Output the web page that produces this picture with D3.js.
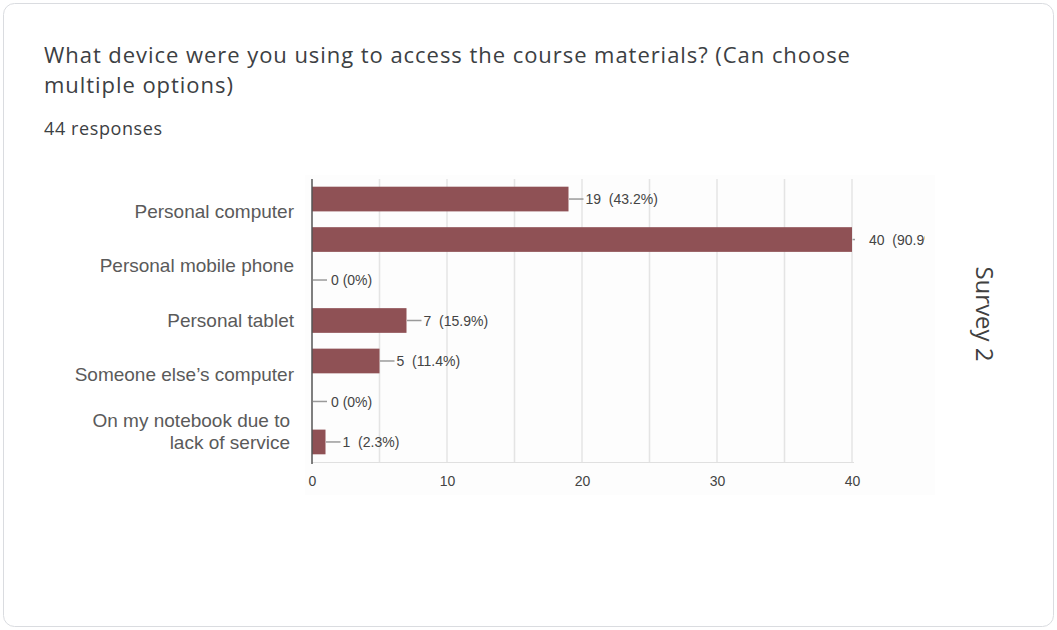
<!DOCTYPE html>
<html>
<head>
<meta charset="utf-8">
<script src="https://cdn.jsdelivr.net/npm/d3@7/dist/d3.min.js"></script>
<style>
  html, body { margin: 0; padding: 0; background: #ffffff; }
  svg { display: block; }
</style>
</head>
<body>
<svg id="chart" width="1057" height="630"></svg>
<script>
// Survey question and response count
const titleLines = [
  "What device were you using to access the course materials? (Can choose",
  "multiple options)"
];
const responseText = "44 responses";
const sideLabel = "Survey 2";

// Category labels shown along the left side
const categoryLabels = [
  ["Personal computer"],
  ["Personal mobile phone"],
  ["Personal tablet"],
  ["Someone else\u2019s computer"],
  ["On my notebook due to", "lack of service"]
];

// Bar counts, top to bottom, and their percentage labels
const barCounts = [19, 40, 0, 7, 5, 0, 1];
const barPercents = ["43.2%", "90.9%", "0%", "15.9%", "11.4%", "0%", "2.3%"];

// Axis ticks
const xTicks = [0, 10, 20, 30, 40];
const xGrid = [5, 10, 15, 20, 25, 30, 35, 40];

const svg = d3.select("#chart");

// Card frame
svg.append("rect")
  .attr("x", 3.5).attr("y", 3.5)
  .attr("width", 1050).attr("height", 623)
  .attr("rx", 11).attr("ry", 11)
  .attr("fill", "#ffffff")
  .attr("stroke", "#dadce0")
  .attr("stroke-width", 1);

// Header
const header = svg.append("g").attr("font-family", "'Open Sans', Lato, sans-serif");
header.selectAll("text.title")
  .data(titleLines)
  .join("text")
  .attr("class", "title")
  .attr("x", 44)
  .attr("y", (d, i) => 63 + i * 30)
  .attr("font-size", 22)
  .attr("letter-spacing", 0.95)
  .attr("fill", "#3c4043")
  .text(d => d);

header.append("text")
  .attr("x", 44).attr("y", 135)
  .attr("font-size", 18)
  .attr("letter-spacing", 0.6)
  .attr("fill", "#3c4043")
  .text(responseText);

// Plot geometry
const plot = { left: 312, right: 852, top: 179, bottom: 462 };

// Chart panel background
svg.append("rect")
  .attr("x", 305).attr("y", 175)
  .attr("width", 630).attr("height", 320)
  .attr("fill", "#fdfdfd");

const x = d3.scaleLinear().domain([0, 40]).range([plot.left, plot.right]);
const yBar = d3.scaleBand()
  .domain(d3.range(barCounts.length))
  .range([plot.top, plot.bottom])
  .paddingInner(0.39)
  .paddingOuter(0.19);
const yCat = d3.scaleBand()
  .domain(d3.range(categoryLabels.length))
  .range([184, 456]);

// Vertical gridlines
svg.append("g")
  .selectAll("line")
  .data(xGrid)
  .join("line")
  .attr("x1", d => x(d)).attr("x2", d => x(d))
  .attr("y1", plot.top).attr("y2", plot.bottom)
  .attr("stroke", "#e4e4e4")
  .attr("stroke-width", 1.5);

// Baseline along the bottom of the plot
svg.append("line")
  .attr("x1", plot.left).attr("x2", plot.right + 2)
  .attr("y1", plot.bottom + 0.5).attr("y2", plot.bottom + 0.5)
  .attr("stroke", "#e0e0e0").attr("stroke-width", 1);

// Bottom axis labels
const xAxis = d3.axisBottom(x).tickValues(xTicks).tickSize(0).tickPadding(14);
const gx = svg.append("g")
  .attr("transform", `translate(0,${plot.bottom})`)
  .call(xAxis);
gx.select(".domain").remove();
gx.selectAll("text")
  .attr("font-family", "'Liberation Sans', Arial, sans-serif")
  .attr("font-size", 14)
  .attr("fill", "#444444");

// Clip for leaders and value labels
svg.append("clipPath").attr("id", "leaderClip")
  .append("rect")
  .attr("x", plot.left).attr("y", plot.top)
  .attr("width", plot.right - plot.left + 3).attr("height", plot.bottom - plot.top);
svg.append("clipPath").attr("id", "panelClip")
  .append("rect")
  .attr("x", 305).attr("y", 175)
  .attr("width", 620).attr("height", 320);

// Bars
svg.append("g")
  .selectAll("rect")
  .data(barCounts)
  .join("rect")
  .attr("x", x(0))
  .attr("y", (d, i) => yBar(i))
  .attr("width", d => x(d) - x(0))
  .attr("height", yBar.bandwidth())
  .attr("fill", "#8f5155");

// Leader lines from bar end to value label
svg.append("g")
  .attr("clip-path", "url(#leaderClip)")
  .selectAll("line")
  .data(barCounts)
  .join("line")
  .attr("x1", d => x(d) + (d > 0 ? 0.5 : 1))
  .attr("x2", d => x(d) + 15)
  .attr("y1", (d, i) => yBar(i) + yBar.bandwidth() / 2)
  .attr("y2", (d, i) => yBar(i) + yBar.bandwidth() / 2)
  .attr("stroke", "#9a9a9a")
  .attr("stroke-width", 1.5);

// Value labels
svg.append("g")
  .attr("clip-path", "url(#panelClip)")
  .selectAll("text")
  .data(barCounts)
  .join("text")
  .attr("x", d => x(d) + (d > 0 ? 17 : 19))
  .attr("y", (d, i) => yBar(i) + yBar.bandwidth() / 2)
  .attr("dy", "0.36em")
  .attr("font-family", "'Liberation Sans', Arial, sans-serif")
  .attr("font-size", 14)
  .attr("fill", "#444444")
  .attr("xml:space", "preserve")
  .text((d, i) => d > 0 ? `${d}  (${barPercents[i]})` : `${d} (${barPercents[i]})`);

// Vertical axis line
svg.append("line")
  .attr("x1", plot.left).attr("x2", plot.left)
  .attr("y1", plot.top).attr("y2", plot.bottom + 2)
  .attr("stroke", "#555555").attr("stroke-width", 1.5);

// Category labels
const cat = svg.append("g")
  .attr("font-family", "'Liberation Sans', Arial, sans-serif")
  .attr("font-size", 19)
  .attr("fill", "#5a5a5a")
  .attr("text-anchor", "end");
cat.selectAll("text")
  .data(categoryLabels)
  .join("text")
  .attr("x", d => d.length > 1 ? 290 : 294)
  .attr("y", (d, i) => yCat(i) + yCat.bandwidth() / 2 + 6.5 - (d.length - 1) * 8.5)
  .each(function(lines) {
    d3.select(this).selectAll("tspan")
      .data(lines)
      .join("tspan")
      .attr("x", d3.select(this).attr("x"))
      .attr("dy", (l, j) => j === 0 ? 0 : 22)
      .text(l => l);
  });

// Side caption
svg.append("text")
  .attr("transform", "translate(976,314) rotate(90)")
  .attr("text-anchor", "middle")
  .attr("font-family", "'Open Sans', 'DejaVu Sans', sans-serif")
  .attr("font-size", 24)
  .attr("fill", "#404040")
  .text(sideLabel);
</script>
</body>
</html>
